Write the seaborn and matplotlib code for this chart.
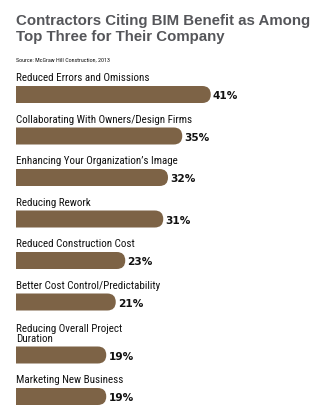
import matplotlib
matplotlib.use("Agg")
import matplotlib.pyplot as plt
import seaborn as sns
import numpy as np
import pandas as pd
from matplotlib.patches import FancyBboxPatch

# ---------------- data ----------------
title_lines = ["Contractors Citing BIM Benefit as Among", "Top Three for Their Company"]
source = "Source: McGraw Hill Construction, 2013"
categories = [
    "Reduced Errors and Omissions",
    "Collaborating With Owners/Design Firms",
    "Enhancing Your Organization\u2019s Image",
    "Reducing Rework",
    "Reduced Construction Cost",
    "Better Cost Control/Predictability",
    "Reducing Overall Project\nDuration",
    "Marketing New Business",
]
values = [41, 35, 32, 31, 23, 21, 19, 19]
value_labels = [f"{v}%" for v in values]

# ---------------- style / layout ----------------
W, H, DPI = 323, 414, 100
BROWN = "#7d6346"
TITLE_GRAY = "#55565a"
NARROW = ["Roboto Condensed", "DejaVu Sans"]

sns.set_theme(style="white")
plt.rcParams["font.family"] = ["DejaVu Sans"]

left_px = 16.0
px_per_pct = 4.75
first_center_px = 95.5
row_px = 41.5
extra_line_px = 11.5
bar_px = 17.0

n_lines = [c.count("\n") + 1 for c in categories]
steps = [0.0] + [row_px + extra_line_px * (k - 1) for k in n_lines[1:]]
pos = np.cumsum(steps)

df = pd.DataFrame({"category": categories, "value": values, "pos": pos})

fig = plt.figure(figsize=(W / DPI, H / DPI), dpi=DPI)
fig.patch.set_facecolor("white")
ax = fig.add_axes([left_px / W, 0, 1 - left_px / W, 1])

sns.barplot(data=df, x="value", y="pos", orient="h", native_scale=True,
            width=bar_px / row_px, color=BROWN, saturation=1,
            errorbar=None, ax=ax)

ax.set_xlim(0, (W - left_px) / px_per_pct)
ax.set_ylim(H - first_center_px, -first_center_px)
ax.axis("off")

# rounded right ends (left end clipped by the axes edge)
for p in list(ax.patches):
    x, y, w, h = p.get_x(), p.get_y(), p.get_width(), p.get_height()
    r_x = (abs(h) / 2) / px_per_pct
    fb = FancyBboxPatch((x - 2 * r_x, y), w + 2 * r_x, h,
                        boxstyle=f"round,pad=0,rounding_size={r_x * 0.999}",
                        mutation_aspect=px_per_pct,
                        facecolor=BROWN, edgecolor="none", linewidth=0)
    ax.add_patch(fb)
    p.remove()

renderer = fig.canvas.get_renderer()

def fit(texts, ref_text, target_px):
    w = ref_text.get_window_extent(renderer).width
    s = ref_text.get_fontsize() * target_px / w
    for t in texts:
        t.set_fontsize(s)

# category labels above bars
labels = []
for c, y in zip(categories, pos):
    labels.append(ax.text(0, y - 12.3, c, ha="left", va="bottom", fontsize=9,
                          family=NARROW, color="#111111", linespacing=0.9))
fit(labels, labels[0], 134)

# value labels
for v, lab, y in zip(values, value_labels, pos):
    ax.text(v + 2.2 / px_per_pct, y + 3.6, lab, ha="left", va="baseline",
            fontsize=7.6, fontweight="bold", color="#111111")

# title + source
TITLE_FONT = ["Liberation Sans", "DejaVu Sans"]
t1 = fig.text(left_px / W, 1 - 25.0 / H, title_lines[0], ha="left", va="baseline",
              fontsize=10, fontweight="bold", family=TITLE_FONT, color=TITLE_GRAY)
t2 = fig.text(left_px / W, 1 - 40.6 / H, title_lines[1], ha="left", va="baseline",
              fontsize=10, fontweight="bold", family=TITLE_FONT, color=TITLE_GRAY)
fit([t1, t2], t1, 294)
src = fig.text(left_px / W, 1 - 61.3 / H, source, ha="left", va="baseline",
               fontsize=5, family=NARROW, color="#111111")
fit([src], src, 96)

fig.savefig("out.png", dpi=DPI, facecolor="white")
